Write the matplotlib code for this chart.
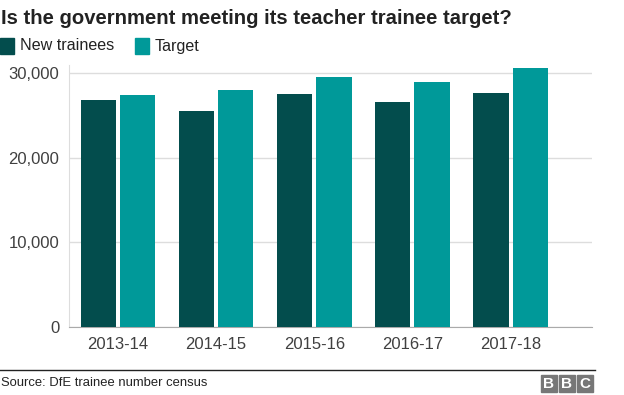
import matplotlib
matplotlib.use("Agg")
import matplotlib.pyplot as plt
from matplotlib.patches import Rectangle
import numpy as np

plt.rcParams['font.family'] = ['Liberation Sans', 'DejaVu Sans']

# data
years = ['2013-14', '2014-15', '2015-16', '2016-17', '2017-18']
new_trainees = [26900, 25600, 27600, 26600, 27700]
target = [27400, 28100, 29600, 29000, 30700]
y_ticks = [0, 10000, 20000, 30000]

dark = '#034d4d'
teal = '#009999'

fig = plt.figure(figsize=(6.24, 3.95), dpi=100)
ax = fig.add_axes([69 / 624, 1 - 327 / 395, (592 - 69) / 624, (327 - 65) / 395])

x = np.arange(len(years))
w = 0.36
ax.bar(x - 0.2, new_trainees, w, color=dark, zorder=3)
ax.bar(x + 0.2, target, w, color=teal, zorder=3)

ax.set_xlim(-0.5, 4.83)
ax.set_ylim(0, 31000)
ax.set_yticks(y_ticks)
ax.set_yticklabels([f'{v:,}' for v in y_ticks])
ax.set_xticks(x)
ax.set_xticklabels(years)
ax.tick_params(axis='both', length=0, labelsize=12, colors='#404040')
ax.tick_params(axis='x', pad=7)
ax.tick_params(axis='y', pad=7)
ax.grid(axis='y', color='#dddddd', linewidth=1, zorder=0)
for s in ['top', 'right']:
    ax.spines[s].set_visible(False)
ax.spines['left'].set_color('#dddddd')
ax.spines['bottom'].set_color('#aaaaaa')

# title and legend
fig.text(1 / 624, 1 - 18 / 395, 'Is the government meeting its teacher trainee target?',
         fontsize=14.6, fontweight='bold', color='#222222', va='center')
fig.patches.append(Rectangle((0, 1 - 54 / 395), 14 / 624, 16 / 395,
                             transform=fig.transFigure, color=dark))
fig.text(20 / 624, 1 - 46 / 395, 'New trainees', fontsize=11.6, color='#222222', va='center')
fig.patches.append(Rectangle((135 / 624, 1 - 54 / 395), 14 / 624, 16 / 395,
                             transform=fig.transFigure, color=teal))
fig.text(155 / 624, 1 - 46 / 395, 'Target', fontsize=11.6, color='#222222', va='center')

# footer
fig.add_artist(plt.Line2D([0, 595 / 624], [1 - 370 / 395] * 2, color='#222222',
                          linewidth=1, transform=fig.transFigure))
fig.text(1 / 624, 1 - 383 / 395, 'Source: DfE trainee number census', fontsize=9.4,
         color='#222222', va='center')
for i, letter in enumerate('BBC'):
    x0 = 541 + i * 18
    fig.patches.append(Rectangle((x0 / 624, 1 - 392 / 395), 16 / 624, 17 / 395,
                                 transform=fig.transFigure, color='#777777'))
    fig.text((x0 + 8) / 624, 1 - 383.5 / 395, letter, fontsize=11, fontweight='bold',
             color='white', ha='center', va='center')

fig.savefig('out.png', dpi=100)
